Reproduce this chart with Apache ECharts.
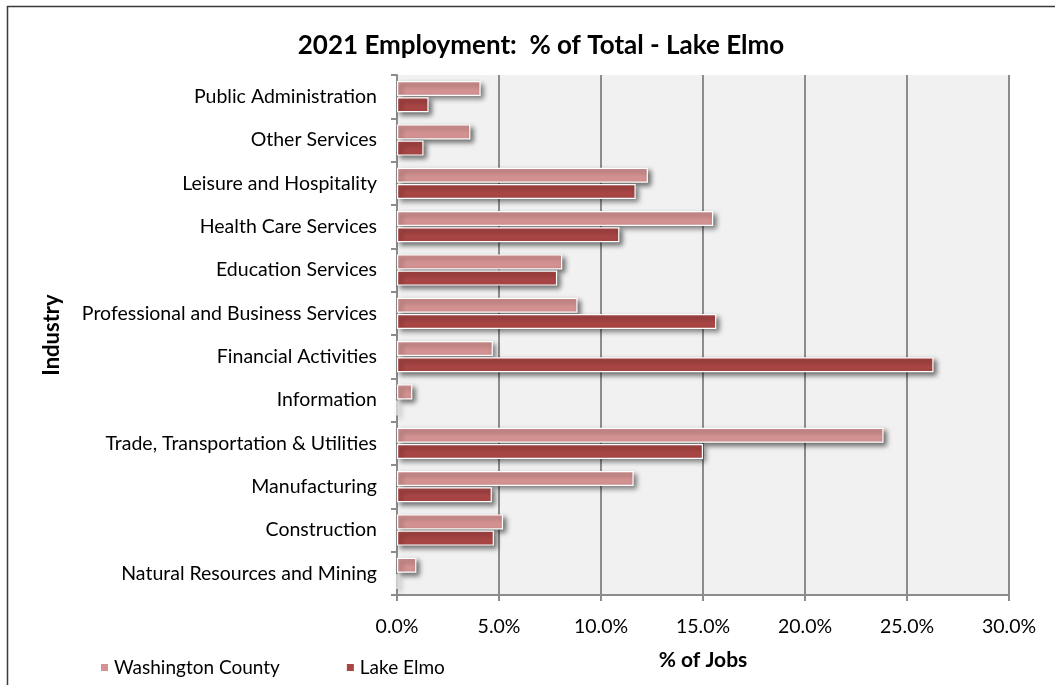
<!DOCTYPE html>
<html>
<head>
<meta charset="utf-8">
<script src="https://cdn.jsdelivr.net/npm/echarts@6/dist/echarts.min.js"></script>
<style>
  html, body { margin: 0; padding: 0; background: #fff; }
  #chart { width: 1055px; height: 685px; }
</style>
</head>
<body>
<div id="chart"></div>
<script>
// Industries, listed top to bottom as drawn
const industries = [
  'Public Administration',
  'Other Services',
  'Leisure and Hospitality',
  'Health Care Services',
  'Education Services',
  'Professional and Business Services',
  'Financial Activities',
  'Information',
  'Trade, Transportation & Utilities',
  'Manufacturing',
  'Construction',
  'Natural Resources and Mining'
];

// Share of jobs (%) by industry
const washingtonCounty = [4.1, 3.6, 12.3, 15.5, 8.1, 8.85, 4.7, 0.75, 23.85, 11.6, 5.2, 0.95];
const lakeElmo        = [1.55, 1.3, 11.7, 10.9, 7.85, 15.65, 26.3, 0.0, 15.0, 4.65, 4.75, 0.0];

const xTicks = [0, 5, 10, 15, 20, 25, 30];

const FONT = 'Lato, "Open Sans", sans-serif';
const GRID_GRAY = '#8c8c8c';

const chart = echarts.init(document.getElementById('chart'), null, { renderer: 'canvas' });

const barStyle = color => ({
  color: color,
  borderColor: '#ffffff',
  borderWidth: 1.2,
  shadowColor: 'rgba(0,0,0,0.55)',
  shadowBlur: 5,
  shadowOffsetX: 3,
  shadowOffsetY: 3
});

chart.setOption({
  backgroundColor: '#ffffff',
  animation: false,
  title: {
    text: '2021 Employment:  % of Total - Lake Elmo',
    left: 536,
    top: 28,
    textAlign: 'center',
    textStyle: { fontFamily: FONT, fontSize: 26, fontWeight: 'bold', color: '#000' }
  },
  legend: {
    data: ['Washington County', 'Lake Elmo'],
    left: 94,
    top: 653,
    itemWidth: 9,
    itemHeight: 9,
    itemGap: 65,
    icon: 'rect',
    textStyle: { fontFamily: FONT, fontSize: 19, color: '#000' }
  },
  grid: { left: 397, right: 46, top: 75, bottom: 90, containLabel: false,
          show: true, backgroundColor: '#f1f1f1', borderWidth: 0 },
  xAxis: {
    type: 'value',
    min: 0,
    max: 30,
    interval: 5,
    name: '% of Jobs',
    nameLocation: 'middle',
    nameGap: 55,
    nameTextStyle: { fontFamily: FONT, fontSize: 21, fontWeight: 'bold', color: '#000' },
    axisLine: { show: true, lineStyle: { color: GRID_GRAY, width: 2 } },
    axisTick: { show: true, length: 6, lineStyle: { color: GRID_GRAY, width: 2 } },
    axisLabel: {
      margin: 22,
      fontFamily: FONT, fontSize: 19.5, color: '#000',
      formatter: v => xTicks.includes(v) ? v.toFixed(1) + '%' : ''
    },
    splitLine: { show: true, lineStyle: { color: GRID_GRAY, width: 2 } }
  },
  yAxis: {
    type: 'category',
    data: industries,
    inverse: true,
    name: 'Industry',
    nameLocation: 'middle',
    nameGap: 334,
    nameRotate: 90,
    nameTextStyle: { fontFamily: FONT, fontSize: 22, fontWeight: 'bold', color: '#000' },
    axisLine: { show: true, lineStyle: { color: GRID_GRAY, width: 2 } },
    axisTick: { show: true, length: 6, inside: false, lineStyle: { color: GRID_GRAY, width: 2 } },
    axisLabel: { margin: 20, fontFamily: FONT, fontSize: 19.5, color: '#000' },
    splitLine: { show: false }
  },
  series: [
    {
      name: 'Washington County',
      type: 'bar',
      data: washingtonCounty,
      barGap: '8%',
      barCategoryGap: '28%',
      itemStyle: barStyle('#d49392')
    },
    {
      name: 'Lake Elmo',
      type: 'bar',
      data: lakeElmo,
      itemStyle: barStyle('#a94645')
    }
  ],
  graphic: [
    {
      type: 'polyline',
      shape: { points: [[7.5, 690], [7.5, 6.5], [1060, 6.5]] },
      style: { stroke: '#3a3a3a', lineWidth: 1.5, fill: null },
      silent: true
    }
  ]
});
</script>
</body>
</html>
